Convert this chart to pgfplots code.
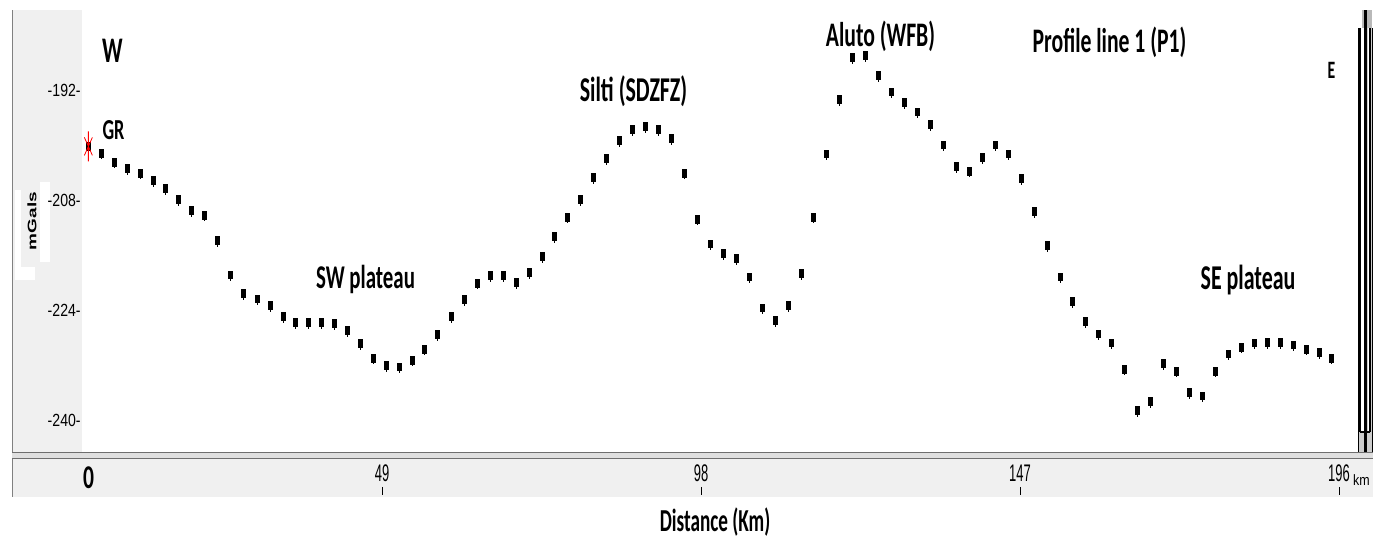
\documentclass[border=0pt]{standalone}
\usepackage{fontspec}
\usepackage{graphicx}
\usepackage{pgfplots}
\pgfplotsset{compat=1.18}
\setmainfont{Liberation Sans}
\newfontfamily\annot{Carlito}

\definecolor{panel}{RGB}{240,240,240}
\definecolor{rule}{RGB}{110,110,110}

% station marker: small filled block with a short stem
\pgfdeclareplotmark{pin}{%
  \pgfpathrectangle{\pgfpoint{-1.25bp}{-2.2bp}}{\pgfpoint{2.5bp}{4.4bp}}%
  \pgfusepathqfill
  \pgfpathmoveto{\pgfpoint{0bp}{-2.2bp}}%
  \pgfpathlineto{\pgfpoint{0bp}{-3.1bp}}%
  \pgfusepathqstroke
}
% start-of-profile star
\pgfdeclareplotmark{gstar}{%
  \pgfpathmoveto{\pgfpoint{0bp}{-7.5bp}}\pgfpathlineto{\pgfpoint{0bp}{7.5bp}}%
  \pgfpathmoveto{\pgfpoint{-2bp}{-4.5bp}}\pgfpathlineto{\pgfpoint{2bp}{4.5bp}}%
  \pgfpathmoveto{\pgfpoint{-2bp}{4.5bp}}\pgfpathlineto{\pgfpoint{2bp}{-4.5bp}}%
  \pgfusepathqstroke
}

\newcommand\lab[3]{{\annot\bfseries\fontsize{#1}{#1}\selectfont\scalebox{#2}[1]{#3}}}

\begin{document}
\begin{tikzpicture}
\begin{scope}[x=0.5bp,y=0.5bp]
  \path[use as bounding box] (0,0) rectangle (1381,540);
  \fill[white] (0,0) rectangle (1381,540);
  % vertical scale panel
  \fill[panel] (12,88) rectangle (82,530);
  % distance scale band
  \fill[panel] (12,43) rectangle (1373,81);
  \draw[gray, line width=0.5bp] (12,43) -- (12,530);
  % double rule under the profile
  \fill[gray!25] (12,81) rectangle (1373,88);
  \draw[rule, line width=0.8bp] (12,87.5) -- (1373,87.5);
  \draw[rule, line width=0.8bp] (12,81.5) -- (1373,81.5);
  % white gaps around the unit label
  \fill[white] (15,260) rectangle (21,350);
  \fill[white] (21,260) rectangle (35,273);
  \fill[white] (40,278) rectangle (50,358);
  % scroll bar on the right
  \fill[gray!40] (1358,88) rectangle (1373,512);
  \fill[gray!55] (1362,512) rectangle (1372,530);
  \fill[white] (1360,108) rectangle (1363.5,512);
  \fill[white] (1367.5,108) rectangle (1370,512);
  \draw[black, line width=0.6bp] (1358.5,88) -- (1358.5,512);
  \draw[black, line width=0.6bp] (1360,108) -- (1360,512);
  \draw[black, line width=1.6bp] (1365.5,88) -- (1365.5,530);
  \draw[black, line width=0.6bp] (1370,108) -- (1370,512);
  \draw[black, line width=0.6bp] (1372.5,88) -- (1372.5,512);
  \draw[black, line width=0.6bp] (1360,108) -- (1370,108);
\end{scope}

\begin{axis}[
  at={(41bp,44bp)}, anchor=south west,
  width=636.5bp, height=221bp, scale only axis,
  xmin=2.92, xmax=198.46, ymin=-244.65, ymax=-180.36,
  axis line style={draw=none},
  tick style={draw=none},
  major tick length=0pt,
  clip=false,
  xtick={49,98,147,196},
  xticklabels={\scalebox{0.54}[1]{49},\scalebox{0.54}[1]{98},\scalebox{0.54}[1]{147},\scalebox{0.54}[1]{196}},
  xticklabel style={font=\fontsize{12bp}{12bp}\selectfont, anchor=center, inner sep=0pt, yshift=-10.75bp},
  ytick={-192,-208,-224,-240},
  yticklabels={\scalebox{0.8}[1]{-192-},\scalebox{0.8}[1]{-208-},\scalebox{0.8}[1]{-224-},\scalebox{0.8}[1]{-240-}},
  yticklabel style={font=\fontsize{8.8bp}{9bp}\selectfont, anchor=east, inner sep=0pt, xshift=-0.5bp},
]
\addplot[only marks, mark=pin, mark options={black, line width=0.5bp}] table {
x y
3.9 -200.2
5.9 -201.2
7.9 -202.5
9.9 -203.4
11.9 -204.1
13.9 -205.2
15.8 -206.3
17.8 -207.9
19.8 -209.5
21.8 -210.2
23.8 -213.9
25.8 -218.9
27.8 -221.6
29.8 -222.4
31.8 -223.4
33.8 -225.0
35.7 -225.8
37.7 -225.8
39.7 -225.8
41.7 -226.0
43.7 -227.0
45.7 -228.9
47.7 -231.0
49.7 -232.1
51.7 -232.3
53.7 -231.3
55.6 -229.7
57.6 -227.6
59.6 -225.0
61.6 -222.5
63.6 -220.1
65.6 -219.0
67.6 -219.0
69.6 -220.0
71.6 -218.6
73.6 -216.2
75.5 -213.3
77.5 -210.5
79.5 -207.9
81.5 -204.7
83.5 -202.0
85.5 -199.4
87.5 -197.8
89.5 -197.3
91.5 -197.8
93.5 -199.1
95.4 -204.1
97.4 -210.8
99.4 -214.4
101.4 -215.8
103.4 -216.5
105.4 -219.2
107.4 -223.7
109.4 -225.5
111.4 -223.4
113.4 -218.7
115.3 -210.5
117.3 -201.3
119.3 -193.4
121.3 -187.3
123.3 -187.0
125.3 -189.9
127.3 -192.3
129.3 -193.8
131.3 -195.2
133.3 -197.0
135.2 -200.0
137.2 -203.1
139.2 -203.8
141.2 -201.8
143.2 -200.0
145.2 -201.3
147.2 -204.9
149.2 -209.7
151.2 -214.6
153.2 -219.2
155.1 -222.8
157.1 -225.7
159.1 -227.5
161.1 -228.8
163.1 -232.6
165.1 -238.6
167.1 -237.3
169.1 -231.8
171.1 -232.9
173.1 -236.0
175.0 -236.5
177.0 -232.9
179.0 -230.4
181.0 -229.4
183.0 -228.8
185.0 -228.7
187.0 -228.7
189.0 -229.1
191.0 -229.7
193.0 -230.2
194.9 -231.0
};
\addplot[only marks, mark=gstar, mark options={red, line width=0.4bp}] coordinates {(3.9,-200.2)};

% tick marks of the distance scale
\pgfplotsinvokeforeach{49,98,147,196}{
  \draw[black, line width=0.5bp] ([yshift=-17.5bp]axis cs:#1,-244.65) -- ([yshift=-21.5bp]axis cs:#1,-244.65);
}
\node[inner sep=0pt, anchor=center, yshift=-12.75bp] at (axis cs:3.92,-244.65) {\lab{16.6bp}{0.65}{0}};
\end{axis}

\begin{scope}[x=0.5bp,y=0.5bp]
  \node[inner sep=0pt, anchor=base] at (112.5,477) {\lab{18bp}{0.63}{W}};
  \node[inner sep=0pt, anchor=base] at (113.5,400) {\lab{14.5bp}{0.63}{GR}};
  \node[inner sep=0pt, anchor=base] at (365.5,251) {\lab{16.6bp}{0.63}{SW plateau}};
  \node[inner sep=0pt, anchor=base] at (633.5,438) {\lab{17.4bp}{0.63}{Silti (SDZFZ)}};
  \node[inner sep=0pt, anchor=base] at (880.5,493) {\lab{17.2bp}{0.63}{Aluto (WFB)}};
  \node[inner sep=0pt, anchor=base] at (1109.5,487) {\lab{17.2bp}{0.63}{Profile line 1 (P1)}};
  \node[inner sep=0pt, anchor=base] at (1331.5,461) {\lab{12.5bp}{0.63}{E}};
  \node[inner sep=0pt, anchor=base] at (1248,250) {\lab{17.4bp}{0.63}{SE plateau}};
  \node[inner sep=0pt, anchor=base] at (715,8) {\lab{16bp}{0.6}{Distance (Km)}};
  \node[inner sep=0pt, anchor=center] at (1361.5,60) {\fontsize{7.5bp}{8bp}\selectfont\scalebox{0.83}[1]{km}};
  \node[inner sep=0pt, anchor=center, rotate=90] at (32,319) {\fontsize{9.5bp}{10bp}\selectfont\bfseries\scalebox{1}[0.65]{mGals}};
\end{scope}
\end{tikzpicture}
\end{document}
